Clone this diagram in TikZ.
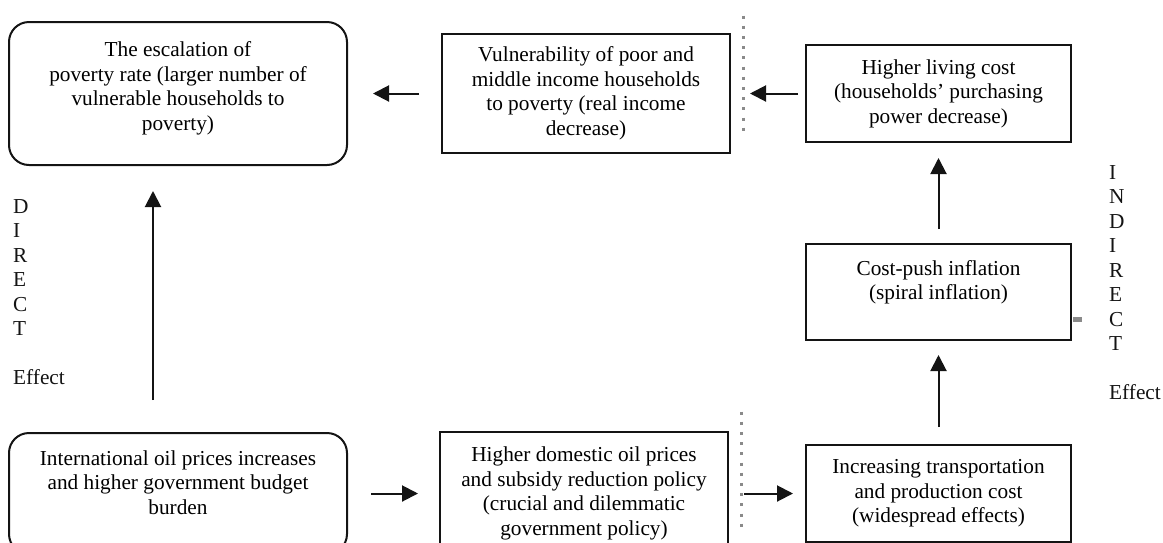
\documentclass[tikz,border=0pt]{standalone}
\usepackage{fontspec}
\setmainfont{Liberation Serif}
\usepackage{tikz}
\usetikzlibrary{arrows.meta,positioning}
\definecolor{DotGray}{HTML}{8A8A8A}
\definecolor{InkBlack}{HTML}{141414}
\newcommand{\diagfont}{\fontsize{21.3}{24.5}\selectfont}
\tikzset{
  roundbox/.style={rectangle,rounded corners=20pt,draw=InkBlack,line width=2pt,minimum width=338pt,minimum height=143pt,align=center,text depth=15pt,font=\diagfont},
  plainbox/.style={rectangle,draw=InkBlack,line width=2pt,minimum width=265pt,minimum height=97pt,align=center,font=\diagfont},
  arrow/.style={-{Triangle[length=16pt,width=16pt]},line width=2pt,color=InkBlack},
  sideword/.style={align=left,inner sep=0pt,text=InkBlack,font=\diagfont},
  dotline/.style={draw=DotGray,line width=3pt,dash pattern=on 3pt off 7.2pt},
}
\begin{document}
\begin{tikzpicture}[x=1pt,y=-1pt]
  \useasboundingbox (0,0) rectangle (1163,542);
  \clip (0,0) rectangle (1163,542);

  \node[roundbox] (escalation) at (178,93.5) {The escalation of\\poverty rate (larger number of\\vulnerable households to\\poverty)};
  \node[plainbox, minimum width=288pt, minimum height=119pt, right=93pt of escalation] (vulnerable) {Vulnerability of poor and\\middle income households\\to poverty (real income\\decrease)};
  \node[plainbox, right=74pt of vulnerable] (livingcost) {Higher living cost\\(households’ purchasing\\power decrease)};
  \node[plainbox, minimum height=96pt, below=100pt of livingcost] (inflation) {Cost-push inflation\\(spiral inflation)\\\mbox{}};
  \node[plainbox, below=103pt of inflation] (transport) {Increasing transportation\\and production cost\\(widespread effects)};
  \node[plainbox, minimum width=288pt, minimum height=124pt, left=76pt of transport] (domestic) {Higher domestic oil prices\\and subsidy reduction policy\\(crucial and dilemmatic\\government policy)};
  \node[roundbox, minimum height=121pt, text depth=22pt, left=91pt of domestic] (intl) {International oil prices increases\\and higher government budget\\burden};

  \node[sideword, anchor=west] (direct) at (13,292) {D\\I\\R\\E\\C\\T\\\mbox{}\\Effect};
  \node[sideword, anchor=west] (indirect) at (1109,282.5) {I\\N\\D\\I\\R\\E\\C\\T\\\mbox{}\\Effect};

  \draw[dotline] (743,15.5) -- (743,131);
  \draw[dotline] (741,411.5) -- (741,528);
  \fill[DotGray] (1073,316.5) rectangle (1082,321.5);

  \draw[arrow, shorten <=23pt, shorten >=21pt] (intl) -- (domestic);
  \draw[arrow, shorten <=15pt, shorten >=12pt] (domestic) -- (transport);
  \draw[arrow, shorten <=17pt, shorten >=14pt] (transport) -- (inflation);
  \draw[arrow, shorten <=14pt, shorten >=15pt] (inflation) -- (livingcost);
  \draw[arrow, shorten <=7pt, shorten >=19pt] (livingcost) -- (vulnerable);
  \draw[arrow, shorten <=22pt, shorten >=25pt] (vulnerable) -- (escalation);
  \draw[arrow, shorten <=32pt, shorten >=25pt] ([xshift=-25pt]intl.north) -- ([xshift=-25pt]escalation.south);
\end{tikzpicture}
\end{document}
